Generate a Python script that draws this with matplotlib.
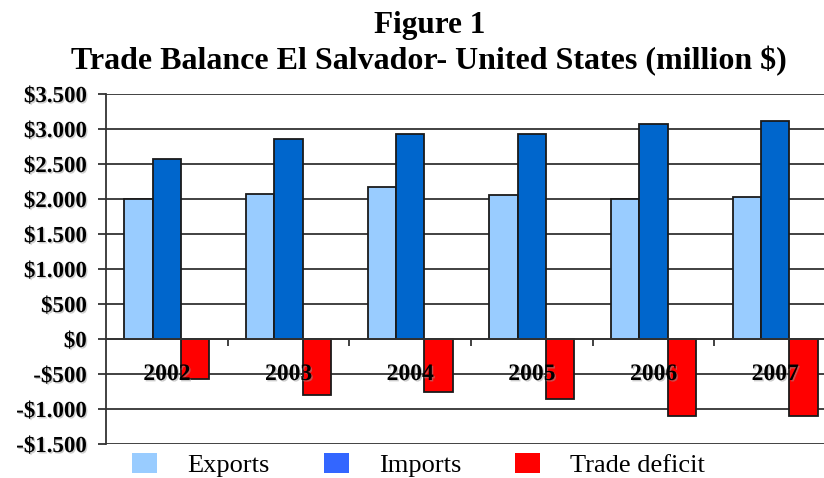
import matplotlib
matplotlib.use('Agg')
import matplotlib.pyplot as plt
import matplotlib.patheffects as pe
import numpy as np
from matplotlib.patches import Patch

# values (million $)
years = ['2002', '2003', '2004', '2005', '2006', '2007']
exports = [2000, 2065, 2170, 2060, 2000, 2025]
imports = [2570, 2860, 2930, 2935, 3070, 3110]
deficit = [-570, -795, -750, -860, -1095, -1095]
yticks = [-1500, -1000, -500, 0, 500, 1000, 1500, 2000, 2500, 3000, 3500]
ylabels = ['-$1.500', '-$1.000', '-$500', '$0', '$500', '$1.000', '$1.500',
           '$2.000', '$2.500', '$3.000', '$3.500']

plt.rcParams['font.family'] = ['Liberation Serif', 'DejaVu Serif']

fig = plt.figure(figsize=(8.24, 4.78), dpi=100)
ax = fig.add_axes([106 / 824, 1 - 444 / 478, 730 / 824, 350 / 478])

x = np.arange(len(years))
w = 0.232
edge = dict(edgecolor='#1a1a1a', linewidth=1.3, zorder=2)
ax.bar(x - w, exports, w, color='#99CCFF', **edge)
ax.bar(x, imports, w, color='#0066CC', **edge)
ax.bar(x + w, deficit, w, color='#FF0000', **edge)

for yv in yticks:
    ax.axhline(yv, color='#333333', linewidth=1.3, zorder=0)

shadow = [pe.withSimplePatchShadow(offset=(1, -1), shadow_rgbFace='#999999', alpha=0.5)]

ax.set_xlim(-0.5, len(years) - 0.5)
ax.set_ylim(-1500, 3500)
ax.set_yticks(yticks)
ax.set_yticklabels(ylabels, fontsize=16.5, fontweight='bold')
ax.tick_params(axis='y', length=6, width=1.3, pad=8, color='#333333')

ax.spines['bottom'].set_position(('data', 0))
ax.spines['bottom'].set_linewidth(1.3)
ax.spines['bottom'].set_color('#333333')
ax.spines['left'].set_linewidth(1.3)
ax.spines['left'].set_color('#333333')
ax.spines['top'].set_visible(False)
ax.spines['right'].set_visible(False)

ax.set_xticks(x)
ax.set_xticklabels(years, fontsize=17, fontweight='bold')
ax.set_xticks(x[:-1] + 0.5, minor=True)
ax.tick_params(axis='x', which='major', length=0, pad=18)
ax.tick_params(axis='x', which='minor', length=5, width=1.3, color='#333333')
for lab in ax.get_xticklabels() + ax.get_yticklabels():
    lab.set_path_effects(shadow)
ax.xaxis.set_zorder(5)

fig.text(0.521, 1 - 33 / 478, 'Figure 1', ha='center', va='baseline',
         fontsize=22.5, fontweight='bold')
fig.text(0.521, 1 - 69 / 478, 'Trade Balance El Salvador- United States (million $)',
         ha='center', va='baseline', fontsize=23, fontweight='bold')

handles = [Patch(facecolor='#99CCFF'), Patch(facecolor='#3366FF'), Patch(facecolor='#FF0000')]
fig.legend(handles, ['Exports', 'Imports', 'Trade deficit'], ncol=3,
           loc='center left', bbox_to_anchor=(132 / 824, 1 - 465 / 478),
           frameon=False, fontsize=19, handlelength=0.95, handleheight=0.78,
           handletextpad=1.14, columnspacing=2.05, borderpad=0, borderaxespad=0)

fig.savefig('out.png', dpi=100)
